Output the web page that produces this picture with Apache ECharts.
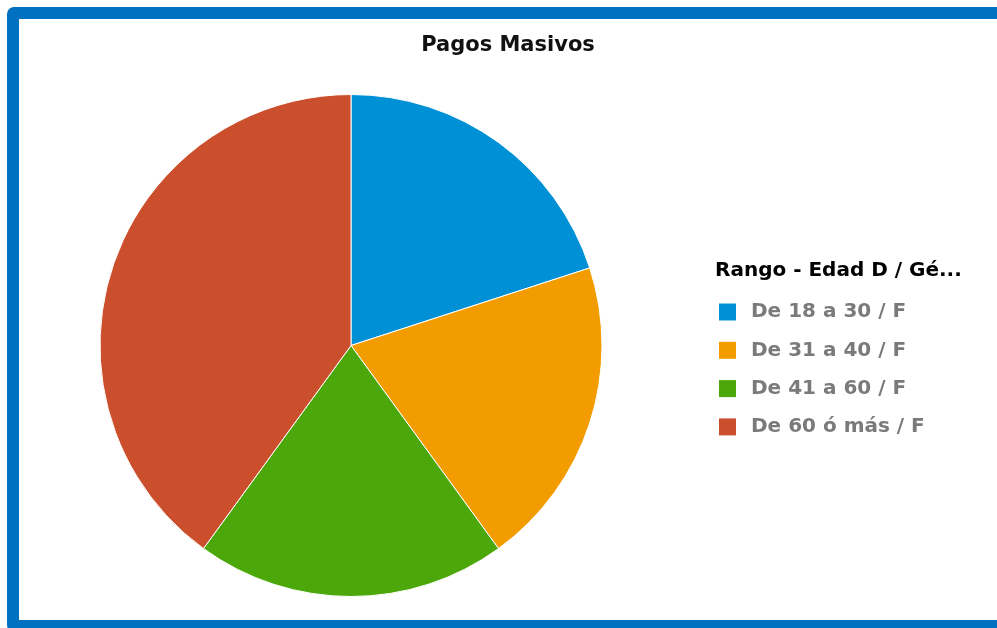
<!DOCTYPE html>
<html>
<head>
<meta charset="utf-8">
<script src="https://cdn.jsdelivr.net/npm/echarts@6/dist/echarts.min.js"></script>
<style>
  body { margin: 0; background: #fff; overflow: hidden; }
  #chart { position: absolute; left: 0; top: 0; width: 997px; height: 628px; }
  #frame {
    position: absolute; left: 7px; top: 7px; width: 1100px; height: 625px;
    box-sizing: border-box; border: 12px solid #0070c0; border-radius: 7px;
    pointer-events: none;
  }
</style>
</head>
<body>
<div id="chart"></div>
<div id="frame"></div>
<script>
const categories = ['De 18 a 30 / F', 'De 31 a 40 / F', 'De 41 a 60 / F', 'De 60 ó más / F'];
const values = [1, 1, 1, 2];
const colors = ['#0090d6', '#f29c00', '#4ba70a', '#cb4f2d'];

const chart = echarts.init(document.getElementById('chart'));

let option = {
  color: colors,
  title: [{
    text: 'Pagos Masivos',
    left: 508,
    top: 35,
    padding: 0,
    textAlign: 'center',
    textStyle: {
      fontFamily: 'DejaVu Sans',
      fontSize: 21,
      fontWeight: 'bold',
      color: '#111'
    }
  }, {
    text: 'Rango - Edad D / Gé...',
    left: 715,
    top: 261,
    padding: 0,
    textStyle: {
      fontFamily: 'DejaVu Sans',
      fontSize: 20,
      fontWeight: 'bold',
      color: '#000'
    }
  }],
  legend: {
    orient: 'vertical',
    left: 719,
    top: 302,
    padding: 0,
    icon: 'rect',
    itemWidth: 17,
    itemHeight: 17,
    itemGap: 18.3,
    selectedMode: false,
    data: categories,
    itemStyle: { borderWidth: 0 },
    textStyle: {
      fontFamily: 'DejaVu Sans',
      fontSize: 20,
      fontWeight: 'bold',
      color: '#7a7a7a',
      padding: [0, 0, 0, 10]
    }
  },
  series: [{
    type: 'pie',
    center: [351, 345.5],
    radius: 251,
    startAngle: 90,
    clockwise: true,
    label: { show: false },
    labelLine: { show: false },
    emphasis: { disabled: true },
    itemStyle: { borderColor: '#fff', borderWidth: 1 },
    data: categories.map((name, i) => ({ name: name, value: values[i] }))
  }]
};
chart.setOption(option);
</script>
</body>
</html>
